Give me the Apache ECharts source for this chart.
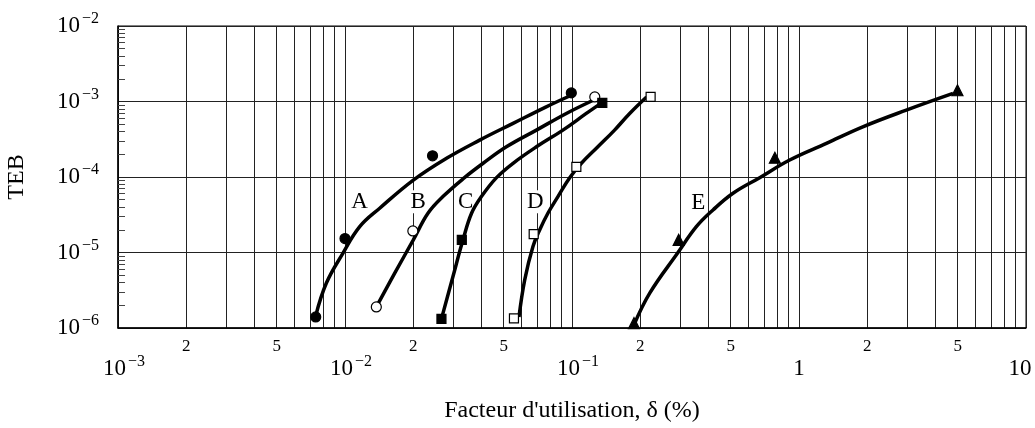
<!DOCTYPE html>
<html>
<head>
<meta charset="utf-8">
<script src="https://cdn.jsdelivr.net/npm/echarts@6/dist/echarts.min.js"></script>
<style>
  html, body { margin: 0; padding: 0; background: #fff; }
  #chart { width: 1035px; height: 428px; }
</style>
</head>
<body>
<div id="chart"></div>
<script>
const FONT = '"Liberation Serif", "Times New Roman", serif';

// measured points (markers)
const ptsA_x = [0.00743, 0.0100, 0.0243, 0.0993];
const ptsA_y = [1.40e-6, 1.53e-5, 1.91e-4, 1.30e-3];
const ptsB_x = [0.01374, 0.0199, 0.126];
const ptsB_y = [1.90e-6, 1.93e-5, 1.15e-3];
const ptsC_x = [0.0266, 0.0327, 0.136];
const ptsC_y = [1.32e-6, 1.47e-5, 9.6e-4];
const ptsD_x = [0.0555, 0.0678, 0.1045, 0.222];
const ptsD_y = [1.34e-6, 1.75e-5, 1.36e-4, 1.15e-3];
const ptsE_x = [0.1875, 0.295, 0.783, 4.99];
const ptsE_y = [1.16e-6, 1.47e-5, 1.80e-4, 1.41e-3];

// fitted curves
const curveA_x = [0.00743, 0.00828, 0.0098, 0.01161, 0.01422, 0.0200, 0.0280, 0.0392, 0.0550, 0.0770, 0.0993];
const curveA_y = [1.45e-6, 3.94e-6, 9.8e-6, 2.2e-5, 3.86e-5, 9.1e-5, 1.77e-4, 3.08e-4, 5.13e-4, 8.5e-4, 1.21e-3];
const curveB_x = [0.01374, 0.01656, 0.0200, 0.0232, 0.0270, 0.0336, 0.0406, 0.0514, 0.0697, 0.0944, 0.124];
const curveB_y = [1.90e-6, 5.33e-6, 1.47e-5, 3.31e-5, 5.5e-5, 9.8e-5, 1.52e-4, 2.51e-4, 4.18e-4, 6.95e-4, 1.04e-3];
const curveC_x = [0.0266, 0.0299, 0.0331, 0.0361, 0.0399, 0.0465, 0.0550, 0.0697, 0.0912, 0.1156, 0.135];
const curveC_y = [1.32e-6, 4.81e-6, 1.47e-5, 3.31e-5, 5.5e-5, 9.8e-5, 1.52e-4, 2.51e-4, 4.18e-4, 6.95e-4, 9.6e-4];
const curveD_x = [0.0584, 0.0619, 0.0673, 0.0721, 0.0783, 0.0867, 0.0977, 0.110, 0.130, 0.154, 0.1795, 0.213];
const curveD_y = [1.40e-6, 4.35e-6, 1.2e-5, 2.0e-5, 3.31e-5, 5.5e-5, 9.8e-5, 1.52e-4, 2.51e-4, 4.18e-4, 6.95e-4, 1.15e-3];
const curveE_x = [0.1875, 0.220, 0.293, 0.353, 0.418, 0.512, 0.671, 0.91, 1.32, 1.91, 2.97, 4.77];
const curveE_y = [1.10e-6, 2.9e-6, 1.0e-5, 2.2e-5, 3.66e-5, 6.09e-5, 9.8e-5, 1.68e-4, 2.79e-4, 4.62e-4, 7.69e-4, 1.28e-3];

// curve names and where they sit
const curveNames = ['A', 'B', 'C', 'D', 'E'];
const curveNameX = [0.0116, 0.021, 0.034, 0.069, 0.36];
const curveNameY = [4.7e-5, 4.7e-5, 4.7e-5, 4.7e-5, 4.6e-5];

// ticks
const xGridValues = [
  0.001, 0.002, 0.003, 0.004, 0.005, 0.006, 0.007, 0.008, 0.009,
  0.01, 0.02, 0.03, 0.04, 0.05, 0.06, 0.07, 0.08, 0.09,
  0.1, 0.2, 0.3, 0.4, 0.5, 0.6, 0.7, 0.8, 0.9,
  1, 2, 3, 4, 5, 6, 7, 8, 9, 10
];
const xMinorLabelValues = [0.002, 0.005, 0.02, 0.05, 0.2, 0.5, 2, 5];
const xMajorLabelValues = [0.001, 0.01, 0.1, 1, 10];
const xMajorLabelTexts = ['10^-3', '10^-2', '10^-1', '1', '10'];
const yMinorValues = [
  2e-6, 3e-6, 4e-6, 5e-6, 6e-6, 7e-6, 8e-6, 9e-6,
  2e-5, 3e-5, 4e-5, 5e-5, 6e-5, 7e-5, 8e-5, 9e-5,
  2e-4, 3e-4, 4e-4, 5e-4, 6e-4, 7e-4, 8e-4, 9e-4,
  2e-3, 3e-3, 4e-3, 5e-3, 6e-3, 7e-3, 8e-3, 9e-3
];

const zip = (xs, ys) => xs.map((x, i) => [x, ys[i]]);
const sameLog = (a, b) => Math.abs(Math.log10(a) - Math.log10(b)) < 1e-6;

function powText(t, pad) {
  if (t.indexOf('^') < 0) return '{b|' + t + '}' + (pad ? '{g| }' : '');
  const [b, e] = t.split('^');
  return (pad ? '{g| }' : '') + '{b|' + b + '}{s|' + e.replace('-', '\u2212') + '}';
}

function xMajorLabel(v) {
  const i = xMajorLabelValues.findIndex((t) => sameLog(t, v));
  if (i < 0) return '';
  const t = xMajorLabelTexts[i];
  // "10" at the end sits a bit left of its tick, the powers a bit right
  return powText(t, t !== '1');
}

function xMinorLabel(v) {
  const i = xMinorLabelValues.findIndex((t) => sameLog(t, v));
  if (i < 0) return '';
  return String(Math.round(v / Math.pow(10, Math.floor(Math.log10(v) + 1e-9))));
}

function yLabel(v) {
  const e = Math.round(Math.log10(v));
  return powText('10^' + e, false);
}

const powRich = {
  b: { fontFamily: FONT, fontSize: 23, lineHeight: 30, color: '#000' },
  s: { fontFamily: FONT, fontSize: 16, lineHeight: 14, padding: [0, 0, 0, 2], verticalAlign: 'top', color: '#000' },
  g: { fontFamily: FONT, fontSize: 10, width: 12, lineHeight: 30 },
};

const curveStyle = { color: '#000', width: 3.5 };

function curve(xs, ys) {
  return {
    type: 'line',
    data: zip(xs, ys),
    smooth: 0.4,
    showSymbol: false,
    symbol: 'none',
    lineStyle: curveStyle,
    z: 4,
    silent: true,
  };
}

function marks(xs, ys, symbol, size, fill) {
  return {
    type: 'scatter',
    data: zip(xs, ys),
    symbol: symbol,
    symbolSize: size,
    itemStyle: { color: fill, borderColor: '#000', borderWidth: 1.2, opacity: 1 },
    z: 5,
    silent: true,
  };
}

const logX = { type: 'log', logBase: 10, min: 0.001, max: 10, position: 'bottom' };
const logY = { type: 'log', logBase: 10, min: 1e-6, max: 1e-2, position: 'left' };

const chart = echarts.init(document.getElementById('chart'), null, { renderer: 'canvas' });

chart.setOption({
  backgroundColor: '#fff',
  animation: false,
  grid: {
    left: 118, right: 9, top: 26, bottom: 100,
    show: true, borderColor: '#000', borderWidth: 1,
    outerBoundsMode: 'none',
  },
  xAxis: [
    {
      ...logX,
      name: "Facteur d'utilisation, \u03b4 (%)",
      nameLocation: 'middle',
      nameGap: 71,
      nameTextStyle: { fontFamily: FONT, fontSize: 24, color: '#000', verticalAlign: 'top' },
      axisLine: { lineStyle: { color: '#000', width: 1.5 } },
      axisTick: { show: false, customValues: xGridValues },
      splitLine: { show: true, lineStyle: { color: '#222', width: 1 } },
      axisLabel: {
        customValues: xMinorLabelValues,
        margin: 10,
        formatter: xMinorLabel,
        fontFamily: FONT,
        fontSize: 17,
        color: '#000',
      },
    },
    {
      // second row: the powers of ten
      ...logX,
      axisLine: { show: false },
      axisTick: { show: false },
      splitLine: { show: false },
      axisLabel: {
        customValues: xMajorLabelValues,
        margin: 26,
        formatter: xMajorLabel,
        rich: powRich,
      },
    },
  ],
  yAxis: [
    {
      ...logY,
      name: 'TEB',
      nameLocation: 'middle',
      nameGap: 89,
      nameTextStyle: { fontFamily: FONT, fontSize: 24, color: '#000' },
      axisLine: { lineStyle: { color: '#000', width: 1.5 } },
      axisTick: { show: false },
      splitLine: { show: true, lineStyle: { color: '#222', width: 1 } },
      axisLabel: {
        margin: 19,
        formatter: yLabel,
        rich: powRich,
      },
    },
    {
      // short inside ticks for 2..9 on the left edge
      ...logY,
      axisLine: { show: false },
      axisLabel: { show: false },
      splitLine: { show: false },
      axisTick: {
        show: true, inside: true, length: 7,
        customValues: yMinorValues,
        lineStyle: { color: '#444', width: 1 },
      },
    },
  ],
  series: [
    curve(curveA_x, curveA_y),
    curve(curveB_x, curveB_y),
    curve(curveC_x, curveC_y),
    curve(curveD_x, curveD_y),
    curve(curveE_x, curveE_y),
    marks(ptsA_x, ptsA_y, 'circle', 10, '#000'),
    marks(ptsB_x, ptsB_y, 'circle', 10, '#fff'),
    marks(ptsC_x, ptsC_y, 'rect', 9, '#000'),
    marks(ptsD_x, ptsD_y, 'rect', 9, '#fff'),
    marks(ptsE_x, ptsE_y, 'triangle', 11, '#000'),
    {
      type: 'scatter',
      data: curveNames.map((n, i) => ({ name: n, value: [curveNameX[i], curveNameY[i]] })),
      symbolSize: 1,
      itemStyle: { color: 'rgba(0,0,0,0)', opacity: 1 },
      silent: true,
      z: 3,
      label: {
        show: true,
        position: 'inside',
        formatter: '{b}',
        fontFamily: FONT,
        fontSize: 23,
        color: '#000',
        opacity: 1,
        backgroundColor: '#fff',
        padding: [0, 2, 0, 2],
      },
    },
  ],
});
</script>
</body>
</html>
